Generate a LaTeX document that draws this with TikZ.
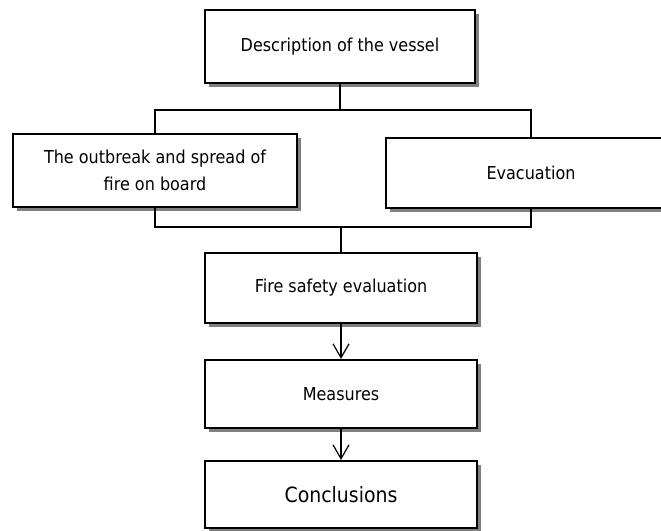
\documentclass[tikz,border=0pt]{standalone}
\usepackage{fontspec}
\setmainfont{DejaVu Sans}[FakeStretch=0.9]
\usetikzlibrary{arrows.meta,shadows}
\begin{document}
\begin{tikzpicture}[x=1pt,y=-1pt,
  box/.style={draw, rectangle, line width=2pt, fill=white, inner sep=0pt,
    align=center, font=\fontsize{17.8}{27}\selectfont,
    drop shadow={shadow xshift=4pt, shadow yshift=-4pt, fill=black!50, opacity=1}},
  conn/.style={line width=1.2pt},
  arr/.style={line width=1.2pt, -{Straight Barb[length=14pt,width=16pt,line width=1.2pt]}}]
\useasboundingbox (0,0) rectangle (661,530);
\clip (0,0) rectangle (661,530);
\node[box, minimum width=270pt, minimum height=73pt] (desc) at (340,46.5) {Description of the vessel};
\node[box, minimum width=284pt, minimum height=73pt] (fire) at (155,170.5) {The outbreak and spread of\\fire on board};
\node[box, minimum width=290pt, minimum height=70pt] (evac) at (531,173) {Evacuation};
\node[box, minimum width=272pt, minimum height=70pt] (eval) at (341,288) {Fire safety evaluation};
\node[box, minimum width=272pt, minimum height=68pt] (meas) at (341,394) {Measures};
\node[box, minimum width=272pt, minimum height=67pt, font=\fontsize{21}{25}\selectfont] (conc) at (341,494.5) {Conclusions};
\coordinate (j1) at (340,110);
\coordinate (j2) at (341,227);
\draw[conn] (desc.south) -- (j1);
\draw[conn] (j1) -| (fire.north);
\draw[conn] (j1) -| (evac.north);
\draw[conn] (fire.south) |- (j2);
\draw[conn] (evac.south) |- (j2);
\draw[conn] (j2) -- (eval.north);
\draw[arr] (eval.south) -- (meas.north);
\draw[arr] (meas.south) -- (conc.north);
\end{tikzpicture}
\end{document}
